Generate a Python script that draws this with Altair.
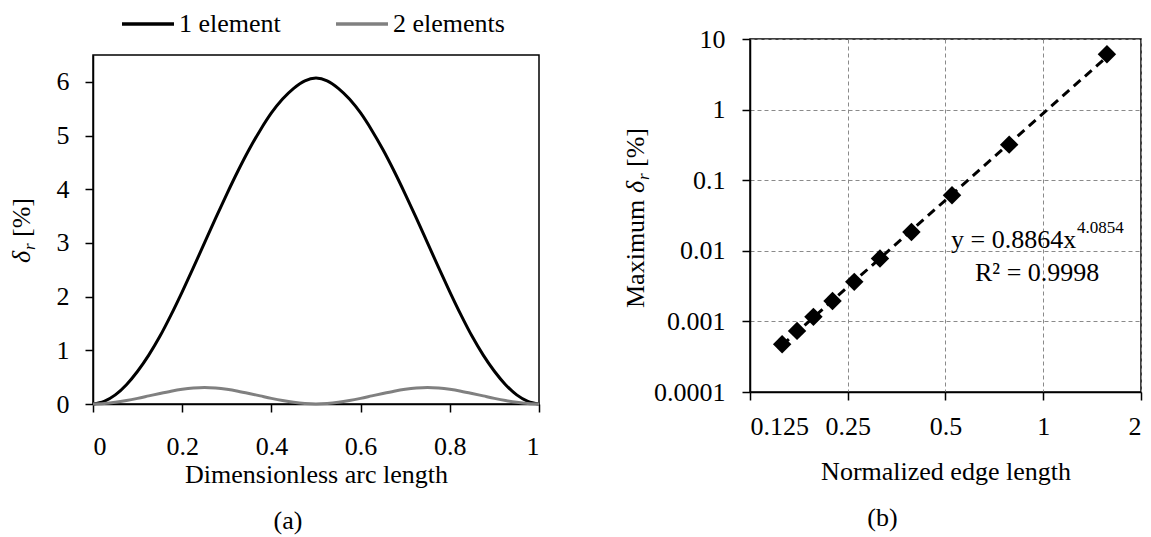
import altair as alt
import pandas as pd

FONT = "Liberation Serif"
FS = 26

# ---------------- panel (a) data ----------------
arc_s = [round(i * 0.025, 3) for i in range(41)]
one_element = [0, 0.05, 0.17, 0.36, 0.61, 0.91, 1.26, 1.66, 2.09, 2.54, 3.00,
               3.46, 3.91, 4.34, 4.74, 5.10, 5.42, 5.68, 5.88, 6.02, 6.07,
               6.02, 5.88, 5.68, 5.42, 5.10, 4.74, 4.34, 3.91, 3.46, 3.00,
               2.54, 2.09, 1.66, 1.26, 0.91, 0.61, 0.36, 0.17, 0.05, 0]
two_elements = [0, 0.009, 0.031, 0.064, 0.105, 0.151, 0.197, 0.239, 0.273, 0.296, 0.306,
                0.296, 0.273, 0.239, 0.197, 0.151, 0.105, 0.064, 0.031, 0.009, 0,
                0.009, 0.031, 0.064, 0.105, 0.151, 0.197, 0.239, 0.273, 0.296, 0.306,
                0.296, 0.273, 0.239, 0.197, 0.151, 0.105, 0.064, 0.031, 0.009, 0]
series_names = ["1 element", "2 elements"]
x_ticks_a = [0, 0.2, 0.4, 0.6, 0.8, 1]
y_ticks_a = [0, 1, 2, 3, 4, 5, 6]

# ---------------- panel (b) data ----------------
edge_length = [0.157, 0.1745, 0.196, 0.2244, 0.2618, 0.3142, 0.3927, 0.5236, 0.7854, 1.5708]
max_error = [0.000474, 0.000734, 0.00116, 0.00195, 0.00363, 0.00776, 0.0185, 0.0611, 0.319, 6.07]
trend_x = [0.157, 1.5708]
trend_y = [0.00046, 5.61]
x_ticks_b = [0.125, 0.25, 0.5, 1, 2]
y_ticks_b = [0.0001, 0.001, 0.01, 0.1, 1, 10]

# panel (a) plot sits 16px lower than panel (b)
TOP_A = 16
W_A, H_A = 446, 365
W_B, H_B = 391, 353

dfa = pd.DataFrame({
    "s": arc_s + arc_s,
    "v": one_element + two_elements,
    "series": [series_names[0]] * len(arc_s) + [series_names[1]] * len(arc_s),
})

axis_common = dict(labelFont=FONT, labelFontSize=FS, labelColor="black",
                   titleFont=FONT, titleFontSize=FS, titleColor="black",
                   titleFontWeight="normal", domainColor="black", domainWidth=1.5,
                   tickColor="black", tickWidth=1.5, tickSize=8)

lines = alt.Chart(dfa).mark_line(strokeWidth=3, interpolate="monotone").encode(
    x=alt.X("s:Q", scale=alt.Scale(domain=[0, 1], nice=False),
            axis=alt.Axis(values=x_ticks_a, format=".1~f", title="Dimensionless arc length",
                          labelPadding=21, titlePadding=2, grid=False, **axis_common)),
    y=alt.Y("v:Q", scale=alt.Scale(domain=[0, 6.5], nice=False, range=[H_A, TOP_A]),
            axis=alt.Axis(values=y_ticks_a, title=None, labelPadding=16, grid=False, **axis_common)),
    color=alt.Color("series:N",
                    scale=alt.Scale(domain=series_names, range=["#000000", "#808080"]),
                    legend=alt.Legend(title=None, orient="none", legendX=40, legendY=-30,
                                      direction="horizontal", symbolType="M-2,0H2",
                                      symbolStrokeWidth=3.5, symbolSize=676,
                                      labelFont=FONT, labelFontSize=FS, labelColor="black",
                                      labelOffset=16, columnPadding=48, padding=0)),
    order=alt.Order("series:N", sort="ascending"),
)

frame_a = alt.Chart(pd.DataFrame({"k": [0]})).mark_rect(
    fillOpacity=0, stroke="black", strokeWidth=1.5
).encode(x=alt.value(0), x2=alt.value(W_A), y=alt.value(TOP_A), y2=alt.value(H_A))


def label_piece(txt, x, y, size=FS, style="normal"):
    return alt.Chart(pd.DataFrame({"t": [txt]})).mark_text(
        font=FONT, fontSize=size, fontStyle=style, angle=270, align="left",
        baseline="alphabetic", color="black"
    ).encode(x=alt.value(x), y=alt.value(y), text="t:N")


ylab_a = (label_piece("δ", -63, 208 + TOP_A, style="italic")
          + label_piece("r", -58, 195 + TOP_A, size=17, style="italic")
          + label_piece("[%]", -63, 182 + TOP_A))

left = alt.layer(frame_a, lines, ylab_a).properties(
    width=W_A, height=H_A,
    view=alt.ViewBackground(stroke="transparent"),
    title=alt.TitleParams("(a)", orient="bottom", anchor="middle", frame="bounds", dx=11,
                          font=FONT, fontSize=FS, fontWeight="normal", color="black", offset=21),
)

# ---------------- panel (b) ----------------
xb = alt.X("x:Q", scale=alt.Scale(type="log", base=2, domain=[0.125, 2], nice=False),
           axis=alt.Axis(values=x_ticks_b, format=".3~f", title="Normalized edge length",
                         labelPadding=13, titlePadding=19, grid=True, gridColor="#8a8a8a",
                         gridDash=[4, 3], gridWidth=1, **axis_common))
yb = alt.Y("y:Q", scale=alt.Scale(type="log", base=10, domain=[0.0001, 10], nice=False),
           axis=alt.Axis(values=y_ticks_b, format=".4~f", title=None, labelPadding=17,
                         grid=True, gridColor="#8a8a8a", gridDash=[4, 3], gridWidth=1,
                         **axis_common))

trend = alt.Chart(pd.DataFrame({"x": trend_x, "y": trend_y})).mark_line(
    color="black", strokeWidth=3, strokeDash=[9, 6]).encode(x=xb, y=yb)
pts = alt.Chart(pd.DataFrame({"x": edge_length, "y": max_error})).mark_point(
    shape="diamond", filled=True, size=340, color="black", opacity=1).encode(x=xb, y=yb)


def plain_text(txt, x, y, size=FS):
    return alt.Chart(pd.DataFrame({"t": [txt]})).mark_text(
        font=FONT, fontSize=size, align="left", baseline="middle", color="black"
    ).encode(x=alt.value(x), y=alt.value(y), text="t:N")


eq = plain_text("y = 0.8864x", 201, 201) + plain_text("4.0854", 327, 189, size=17) \
    + plain_text("R² = 0.9998", 225, 234)

ylab_b = (label_piece("Maximum", -106, 269)
          + label_piece("δ", -106, 154, style="italic")
          + label_piece("r", -101, 141, size=17, style="italic")
          + label_piece("[%]", -106, 128))

right = alt.layer(trend, pts, eq, ylab_b).properties(
    width=W_B, height=H_B,
    view=alt.ViewBackground(stroke="black", strokeWidth=1.5),
    title=alt.TitleParams("(b)", orient="bottom", anchor="middle", frame="bounds",
                          font=FONT, fontSize=FS, fontWeight="normal", color="black", offset=21),
)

chart = alt.hconcat(left, right, spacing=76).resolve_scale(
    x="independent", y="independent", color="independent"
).resolve_legend(color="independent").properties(padding=0).configure_view(
    stroke="transparent"
).configure(background="white")

chart.save("out.html", embed_options={"renderer": "svg", "actions": False})
